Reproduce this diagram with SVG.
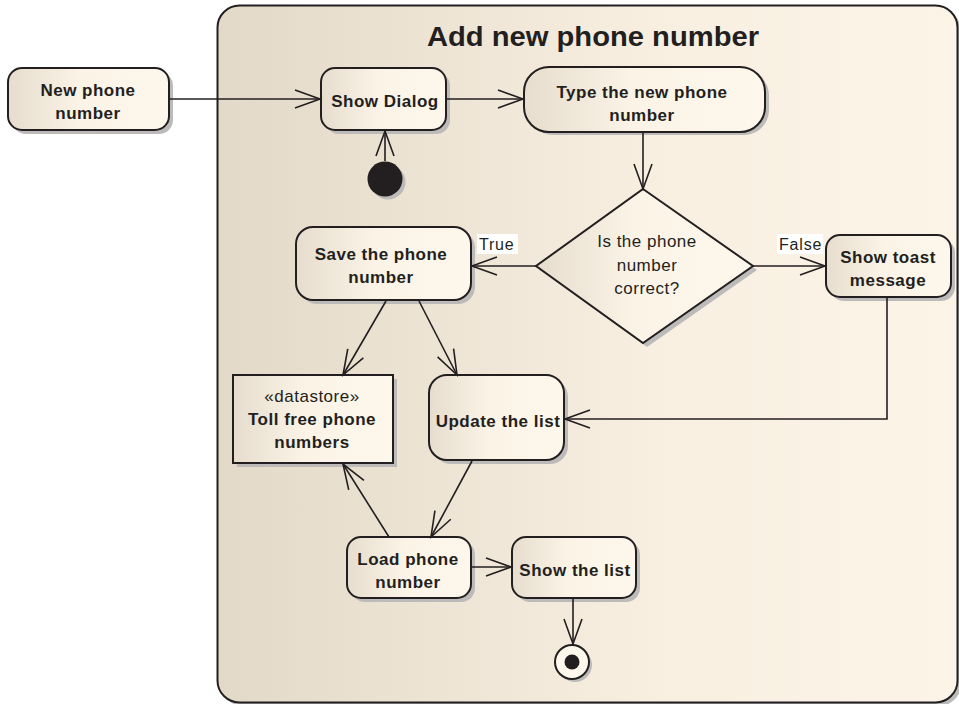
<svg xmlns="http://www.w3.org/2000/svg" width="959" height="704" viewBox="0 0 959 704">
  <defs>
    <linearGradient id="frameFill" x1="0" y1="0" x2="1" y2="0">
      <stop offset="0" stop-color="#e3d9c8"/>
      <stop offset="0.6" stop-color="#f8efe1"/>
      <stop offset="1" stop-color="#fcf4e7"/>
    </linearGradient>
    <linearGradient id="nodeFill" x1="0" y1="0" x2="1" y2="0">
      <stop offset="0" stop-color="#e6ddce"/>
      <stop offset="0.45" stop-color="#fbf3e6"/>
      <stop offset="1" stop-color="#fdf7ec"/>
    </linearGradient>
    <marker id="open" markerUnits="userSpaceOnUse" markerWidth="30" markerHeight="24" viewBox="-27 -12 30 24" refX="0" refY="0" orient="auto">
      <path d="M -25 -9 L 0 0 L -25 9" fill="none" stroke="#231f20" stroke-width="1.6"/>
    </marker>
  </defs>
  <style>
    .frame { fill: url(#frameFill); stroke: #231f20; stroke-width: 2; }
    .node { fill: url(#nodeFill); stroke: #231f20; stroke-width: 2; }
    .shadow { fill: #bdbaba; stroke: none; }
    .edge { fill: none; stroke: #231f20; stroke-width: 1.6; marker-end: url(#open); }
    .lbl { font-family: "Liberation Sans", Arial, sans-serif; font-size: 17px; font-weight: bold; fill: #231f20; text-anchor: middle; letter-spacing: 0.5px; }
    .reg { font-family: "Liberation Sans", Arial, sans-serif; font-size: 17px; fill: #231f20; text-anchor: middle; letter-spacing: 0.5px; }
    .title { font-family: "Liberation Sans", Arial, sans-serif; font-size: 27px; font-weight: bold; fill: #231f20; text-anchor: middle; }
    .guard { font-family: "Liberation Sans", Arial, sans-serif; font-size: 16px; fill: #231f20; letter-spacing: 0.8px; }
  </style>

  <!-- activity frame -->
  <g id="frame">
    <rect x="221" y="9" width="740" height="697" rx="22" class="shadow"/>
    <rect x="217.5" y="5.5" width="740" height="697" rx="22" class="frame"/>
    <text x="593" y="46" class="title" textLength="332" lengthAdjust="spacingAndGlyphs">Add new phone number</text>
  </g>

  <g id="new-phone-number">
    <rect x="12" y="72" width="161" height="62" rx="14" class="shadow"/>
    <rect x="8" y="68" width="161" height="62" rx="14" class="node"/>
    <text x="88" y="96" class="lbl">New phone</text>
    <text x="88" y="119" class="lbl">number</text>
  </g>

  <g id="show-dialog">
    <rect x="325" y="72" width="125" height="62" rx="14" class="shadow"/>
    <rect x="321" y="68" width="125" height="62" rx="14" class="node"/>
    <text x="385" y="107" class="lbl">Show Dialog</text>
  </g>

  <g id="initial">
    <circle cx="388" cy="182" r="17.5" class="shadow"/>
    <circle cx="385" cy="179" r="17.5" fill="#231f20"/>
  </g>

  <g id="type-number">
    <rect x="528" y="70" width="241" height="65" rx="25" class="shadow"/>
    <rect x="524" y="67" width="241" height="65" rx="25" class="node"/>
    <text x="642" y="98" class="lbl">Type the new phone</text>
    <text x="642" y="121" class="lbl">number</text>
  </g>

  <g id="decision">
    <polygon points="647,193 757,270 647,347 540,270" class="shadow"/>
    <polygon points="643,189 753,266 643,343 536,266" class="node"/>
    <text x="647" y="247" class="reg">Is the phone</text>
    <text x="647" y="271" class="reg">number</text>
    <text x="647" y="294" class="reg">correct?</text>
  </g>

  <g id="save-number">
    <rect x="300" y="231" width="175" height="73" rx="17" class="shadow"/>
    <rect x="296" y="227" width="175" height="73" rx="17" class="node"/>
    <text x="381" y="260" class="lbl">Save the phone</text>
    <text x="381" y="283" class="lbl">number</text>
  </g>

  <g id="show-toast">
    <rect x="830" y="239" width="125" height="62" rx="14" class="shadow"/>
    <rect x="826" y="235" width="125" height="62" rx="14" class="node"/>
    <text x="888" y="263" class="lbl">Show toast</text>
    <text x="888" y="286" class="lbl">message</text>
  </g>

  <g id="datastore">
    <rect x="237" y="379" width="160" height="88" class="shadow"/>
    <rect x="233" y="375" width="160" height="88" class="node"/>
    <text x="312" y="402" class="reg">«datastore»</text>
    <text x="312" y="425" class="lbl">Toll free phone</text>
    <text x="312" y="448" class="lbl">numbers</text>
  </g>

  <g id="update-list">
    <rect x="433" y="379" width="135" height="85" rx="18" class="shadow"/>
    <rect x="429" y="375" width="135" height="85" rx="18" class="node"/>
    <text x="498" y="427" class="lbl">Update the list</text>
  </g>

  <g id="load-number">
    <rect x="351" y="541" width="124" height="61" rx="14" class="shadow"/>
    <rect x="347" y="537" width="124" height="61" rx="14" class="node"/>
    <text x="408" y="565" class="lbl">Load phone</text>
    <text x="408" y="588" class="lbl">number</text>
  </g>

  <g id="show-list">
    <rect x="516" y="541" width="124" height="61" rx="14" class="shadow"/>
    <rect x="512" y="537" width="124" height="61" rx="14" class="node"/>
    <text x="575" y="576" class="lbl">Show the list</text>
  </g>

  <g id="final">
    <circle cx="575" cy="665" r="17" class="shadow"/>
    <circle cx="572" cy="662" r="17" fill="#fdf7ec" stroke="#231f20" stroke-width="2"/>
    <circle cx="572" cy="662" r="7.5" fill="#231f20"/>
  </g>

  <g id="connectors">
    <line x1="169" y1="99" x2="320" y2="99" class="edge"/>
    <line x1="446" y1="99" x2="523" y2="99" class="edge"/>
    <line x1="385" y1="161" x2="385" y2="131" class="edge"/>
    <line x1="643" y1="132" x2="643" y2="189" class="edge"/>
    <line x1="536" y1="266" x2="472" y2="266" class="edge"/>
    <line x1="753" y1="266" x2="825" y2="266" class="edge"/>
    <polyline points="887,297 887,419 565,419" class="edge"/>
    <line x1="386" y1="301" x2="343" y2="375" class="edge"/>
    <line x1="419" y1="301" x2="457" y2="375" class="edge"/>
    <line x1="472" y1="461" x2="431" y2="537" class="edge"/>
    <line x1="389" y1="537" x2="343" y2="464" class="edge"/>
    <line x1="471" y1="567" x2="511" y2="567" class="edge"/>
    <line x1="573" y1="598" x2="573" y2="644" class="edge"/>
    <rect x="477" y="234" width="41" height="20" fill="#ffffff"/>
    <text x="479" y="250" class="guard">True</text>
    <rect x="777" y="234" width="46" height="20" fill="#ffffff"/>
    <text x="779" y="250" class="guard">False</text>
  </g>
</svg>
